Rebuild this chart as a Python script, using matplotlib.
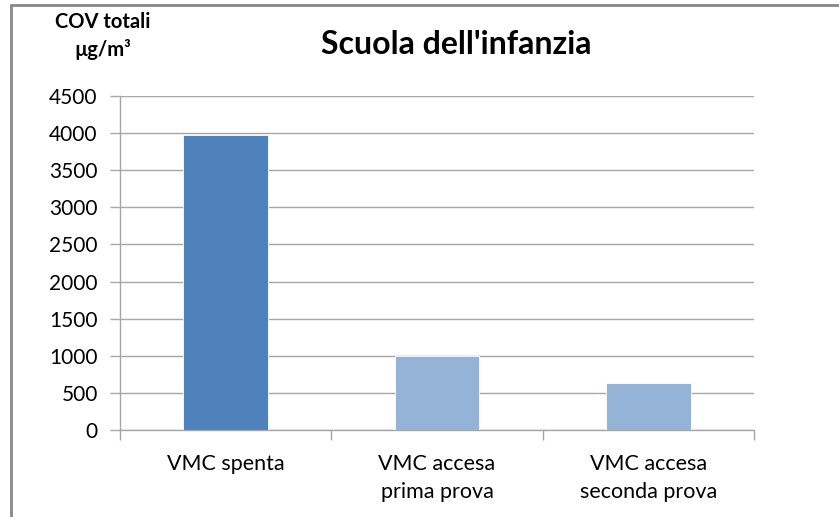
import matplotlib
matplotlib.use("Agg")
import matplotlib.pyplot as plt
from matplotlib.patches import Rectangle

categories = ["VMC spenta", "VMC accesa\nprima prova", "VMC accesa\nseconda prova"]
values = [3970, 995, 632]
bar_colors = ["#4F81BD", "#95B3D7", "#95B3D7"]
yticks = [0, 500, 1000, 1500, 2000, 2500, 3000, 3500, 4000, 4500]

plt.rcParams['font.family'] = ['Lato', 'DejaVu Sans']

fig = plt.figure(figsize=(8.39, 5.17), dpi=100)
ax = fig.add_axes([120/839, 1-430/517, (754-120)/839, (430-96)/517])

x = list(range(len(categories)))
ax.bar(x, values, width=0.4, color=bar_colors, edgecolor="white", linewidth=0.6, zorder=3)

ax.set_xlim(-0.5, 2.5)
ax.set_ylim(0, 4500)
ax.set_yticks(yticks)
ax.set_yticklabels([str(t) for t in yticks], fontsize=15)
ax.grid(axis="y", color="#A6A6A6", linewidth=1.0, zorder=0)
ax.set_axisbelow(True)

ax.set_xticks(x)
ax.set_xticklabels(categories, fontsize=15.5, linespacing=1.5)
ax.tick_params(axis="x", which="major", length=0, pad=17)
ax.set_xticks([-0.5, 0.5, 1.5, 2.5], minor=True)
ax.tick_params(axis="x", which="minor", length=7, color="#A6A6A6", width=1)
ax.tick_params(axis="y", length=7, color="#A6A6A6", width=1, pad=9)

for s in ["top", "right"]:
    ax.spines[s].set_visible(False)
for s in ["left", "bottom"]:
    ax.spines[s].set_color("#A6A6A6")
    ax.spines[s].set_linewidth(1.0)

fig.text(456/839, 1-45/517, "Scuola dell'infanzia", fontsize=23, fontweight="bold",
         ha="center", va="center")
fig.text(103/839, 1-22/517, "COV totali", fontsize=14.5, fontweight="bold",
         ha="center", va="center")
fig.text(103/839, 1-50/517, "\u00b5g/m\u00b3", fontsize=14.5, fontweight="bold",
         ha="center", va="center")

fig.patches.append(Rectangle((11/839, -0.05), 1.0, 1-5/517 + 0.05, transform=fig.transFigure,
                             fill=False, edgecolor="#878787", linewidth=2, zorder=10))

fig.savefig("out.png", dpi=100)
